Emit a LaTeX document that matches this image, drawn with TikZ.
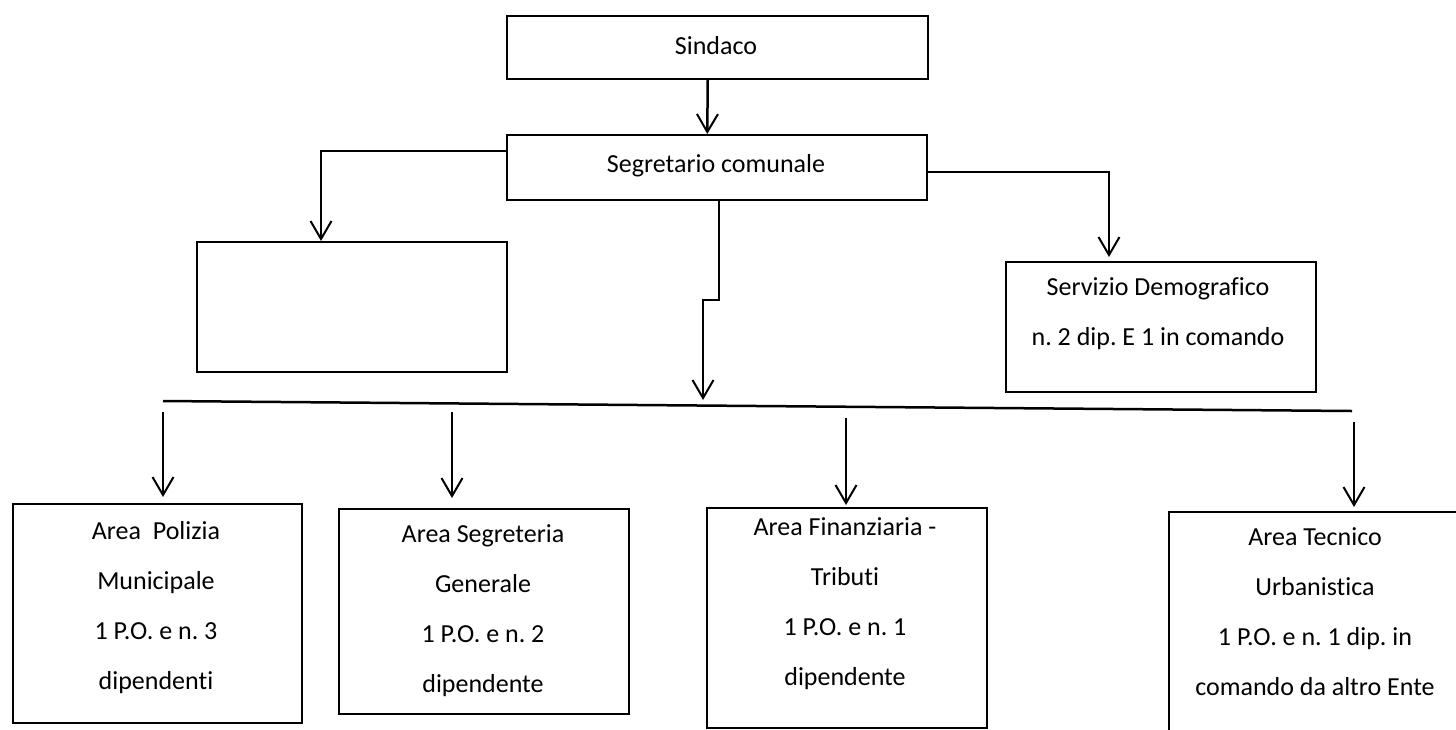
\documentclass[tikz,border=0pt]{standalone}
\usepackage{fontspec}
\setmainfont{Carlito}[Ligatures=NoCommon]
\usetikzlibrary{arrows.meta}
\frenchspacing
\tikzset{
  box/.style={draw=black, line width=1.5pt, rectangle, inner sep=0pt, anchor=north west},
  txt/.style={align=center, inner sep=0pt, font=\fontsize{26}{50}\selectfont},
  arr/.style={line width=2pt, -{Straight Barb[length=18pt,width=21pt,line width=2pt]}},
  bus/.style={line width=2.5pt}
}
\begin{document}
\begin{tikzpicture}[x=1pt,y=-1pt]
\useasboundingbox (0,0) rectangle (1456,729);
\clip (0,0) rectangle (1456,729);
% boxes
\node[box, minimum width=421, minimum height=63] (sind) at (506,15) {};
\node[box, minimum width=420, minimum height=65] (seg) at (506,134) {};
\node[box, minimum width=310, minimum height=130] (empty) at (196,241) {};
\node[box, minimum width=310, minimum height=130] (serv) at (1005,261) {};
\node[box, minimum width=289, minimum height=219] (b1) at (12,503) {};
\node[box, minimum width=290, minimum height=205] (b2) at (338,508) {};
\node[box, minimum width=280, minimum height=220] (b3) at (706,507) {};
\node[box, minimum width=300, minimum height=250] (b4) at (1168,511) {};
% texts
\node[txt] (tsind) at (716,46) {Sindaco};
\node[txt] (tseg) at (716,166) {Segretario comunale};
\node[txt] (tserv) at (1158,314) {Servizio Demografico\\n. 2 dip. E 1 in comando};
\node[txt] (t1) at (156,607.5) {Area\ \ Polizia\\Municipale\\1 P.O. e n. 3\\dipendenti};
\node[txt] (t2) at (483,610.5) {Area Segreteria\\Generale\\1 P.O. e n. 2\\dipendente};
\node[txt] (t3) at (845,604) {Area Finanziaria -\\Tributi\\1 P.O. e n. 1\\dipendente};
\node[txt] (t4) at (1315,612) {Area Tecnico\\Urbanistica\\1 P.O. e n. 1 dip. in\\comando da altro Ente};
% coordinates
\coordinate (busL) at (163,401);
\coordinate (busR) at (1352,411);
\coordinate (j1) at (719,300);
\coordinate (j2) at (703,300);
\coordinate (mtip) at (703,400);
\coordinate (a1) at (163,412);
\coordinate (a2) at (452,412);
\coordinate (a3) at (846,418);
\coordinate (a4) at (1354,422);
\coordinate (lft) at (321,151);
\coordinate (rgt) at (1109,172);
% connectors
\draw[arr, line width=2.5pt] ([xshift=-9.5pt]sind.south) -- ([xshift=-9.5pt]seg.north);
\draw[arr] (seg.west |- lft) -- (lft) -- (empty.north -| lft);
\draw[arr, shorten >=4pt] (seg.east |- rgt) -- (rgt) -- (serv.north -| rgt);
\draw[arr] (seg.south -| j1) -- (j1) -- (j2) -- (mtip);
\draw[bus] (busL) -- (busR);
\draw[arr, shorten >=6pt] (a1) -- (b1.north -| a1);
\draw[arr, shorten >=10pt] (a2) -- (b2.north -| a2);
\draw[arr, shorten >=2pt] (a3) -- (b3.north -| a3);
\draw[arr, shorten >=4pt] (a4) -- (b4.north -| a4);
\end{tikzpicture}
\end{document}
